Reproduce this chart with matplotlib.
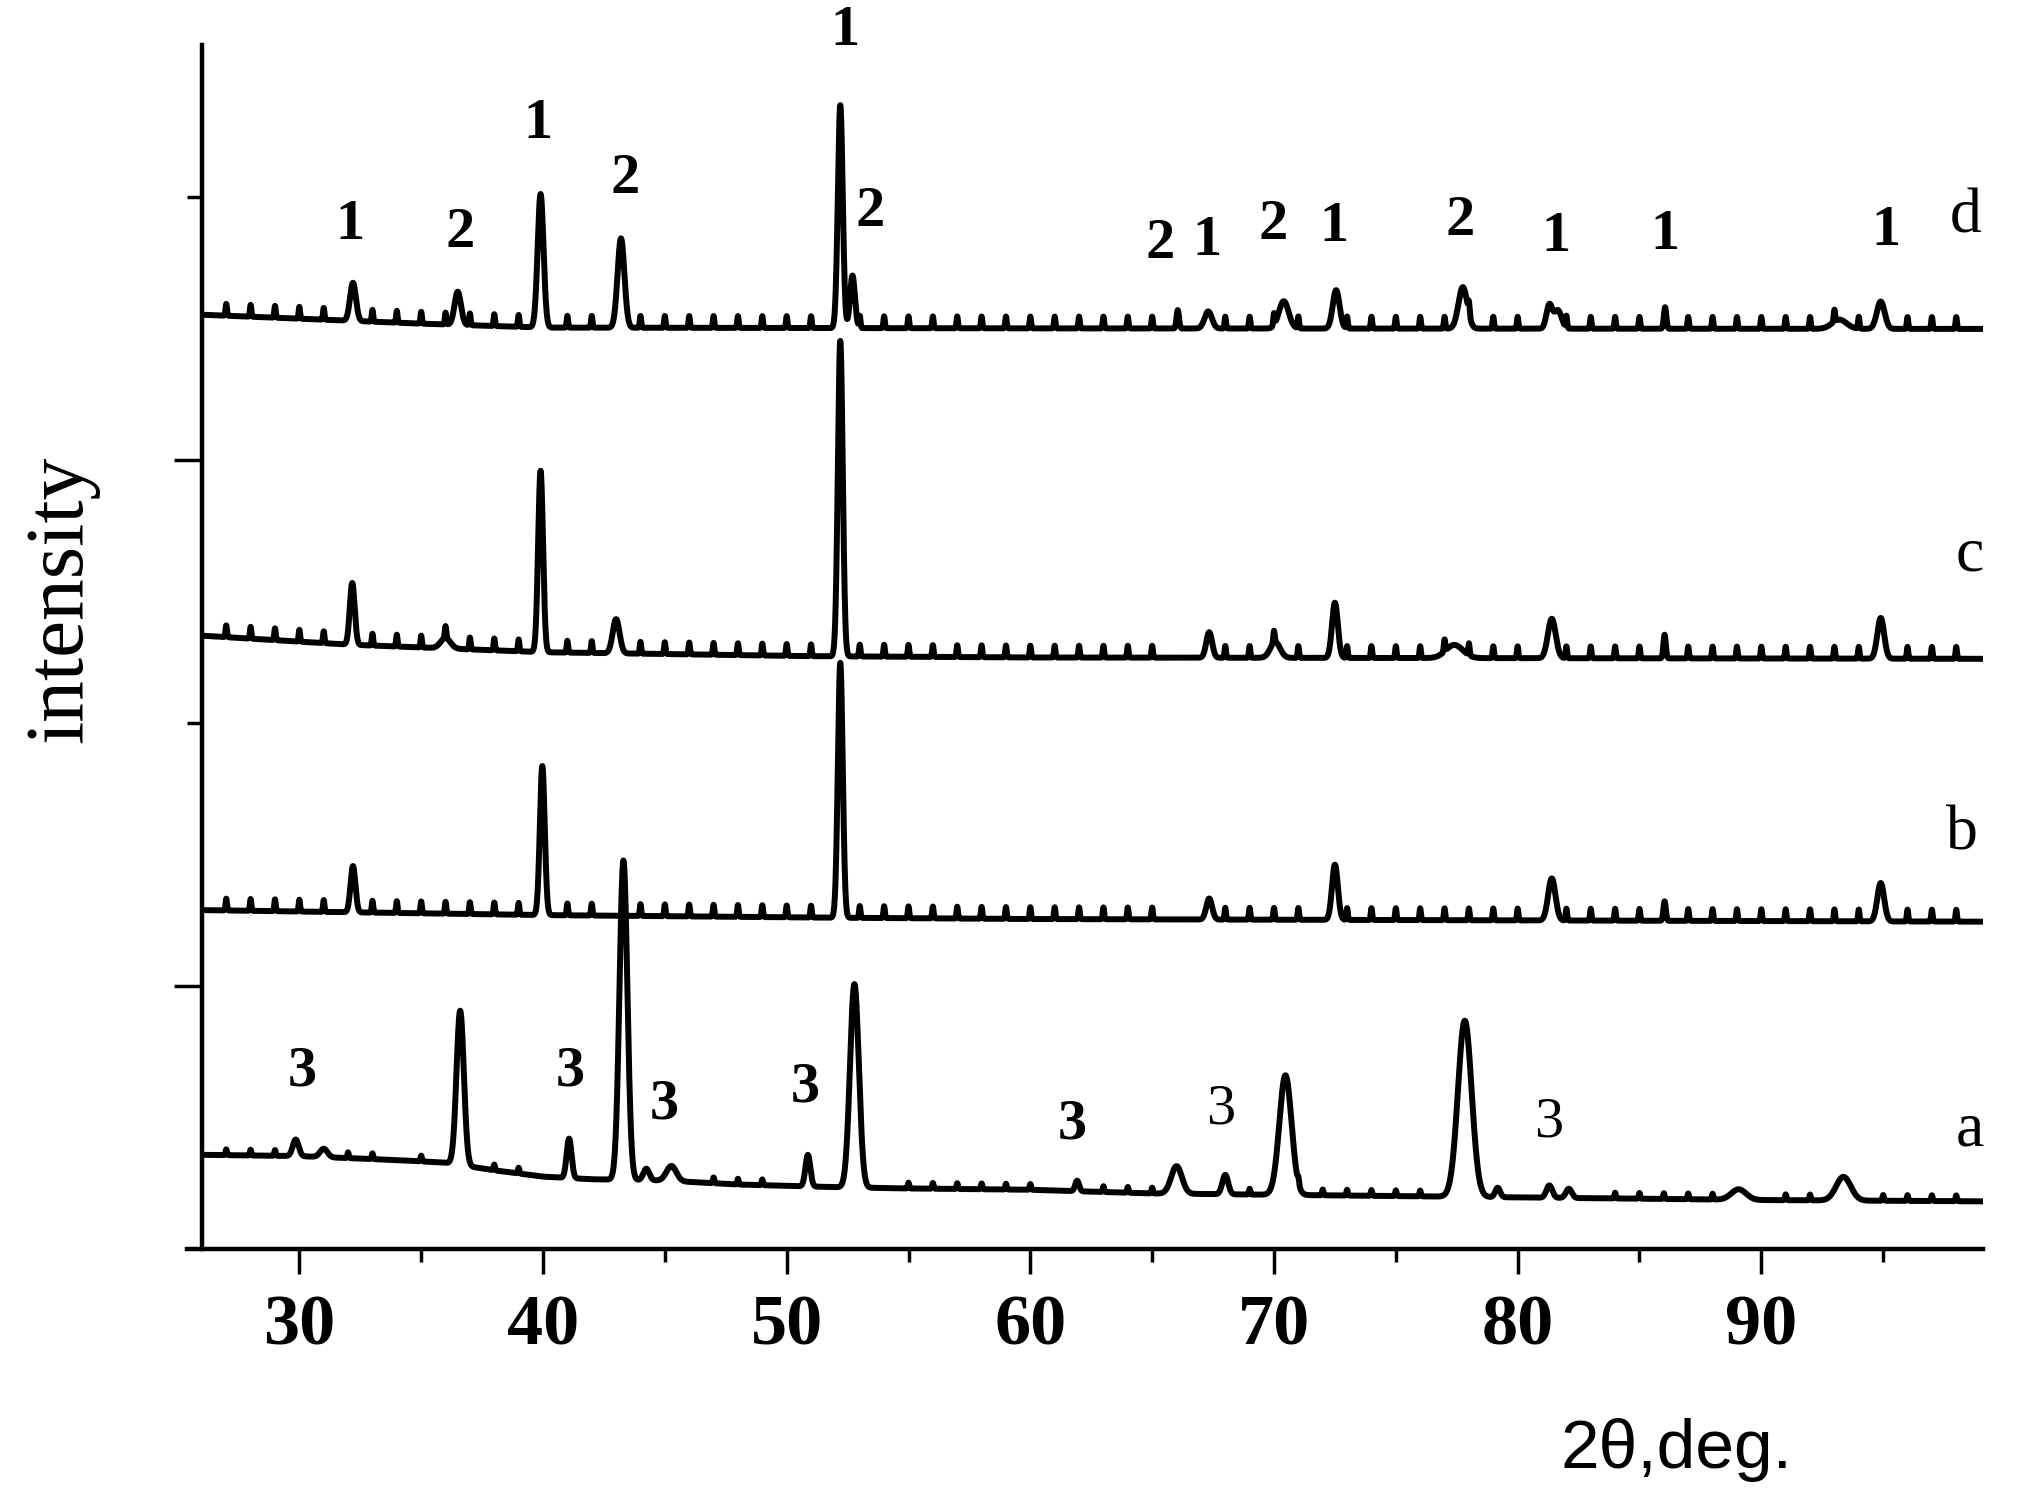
import numpy as np
import matplotlib.pyplot as plt
from matplotlib.ticker import FixedLocator, MultipleLocator

plt.rcParams['font.family'] = ['Liberation Serif', 'DejaVu Serif']

# ---- data (2theta in deg, intensity in tick units) ----
# baselines (anchor points)
a_base_x = [26, 30, 34, 36, 38, 40, 42, 45, 48, 52, 55, 60, 65, 70, 75, 80, 90, 99]
a_base_y = [0.358, 0.353, 0.338, 0.328, 0.299, 0.275, 0.265, 0.260, 0.245, 0.235,
            0.230, 0.225, 0.211, 0.206, 0.201, 0.196, 0.186, 0.181]
b_base_x = [26, 40, 52, 60, 99]
b_base_y = [1.289, 1.270, 1.260, 1.255, 1.245]
c_base_x = [26, 32, 40, 51, 60, 99]
c_base_y = [2.333, 2.299, 2.270, 2.255, 2.250, 2.245]
d_base_x = [26, 35, 40, 60, 99]
d_base_y = [3.554, 3.520, 3.505, 3.502, 3.500]

# peaks: position, height above baseline, width (sigma)
a_pos = [29.85, 31.0, 36.6, 41.07, 43.3, 44.24, 45.27, 50.87, 52.78, 61.92, 66.0,
         68.0, 70.47, 77.83, 79.18, 81.3, 82.1, 89.07, 93.37]
a_int = [0.063, 0.032, 0.587, 0.15, 1.215, 0.044, 0.057, 0.12, 0.774, 0.04, 0.105,
         0.074, 0.455, 0.67, 0.036, 0.047, 0.035, 0.04, 0.09]
a_wid = [0.12, 0.15, 0.15, 0.10, 0.16, 0.12, 0.20, 0.10, 0.18, 0.08, 0.22,
         0.12, 0.25, 0.28, 0.10, 0.12, 0.12, 0.30, 0.30]

b_pos = [32.2, 39.97, 52.2, 67.34, 72.5, 81.4, 86.03, 94.9]
b_int = [0.176, 0.567, 0.97, 0.08, 0.21, 0.16, 0.074, 0.146]
b_wid = [0.10, 0.10, 0.10, 0.12, 0.12, 0.15, 0.05, 0.14]

c_pos = [32.17, 36.0, 39.9, 43.0, 52.2, 67.34, 70.05, 72.5, 77.4, 81.4, 86.03, 94.9]
c_int = [0.235, 0.04, 0.69, 0.13, 1.2, 0.097, 0.06, 0.21, 0.05, 0.15, 0.09, 0.155]
c_wid = [0.10, 0.20, 0.10, 0.14, 0.10, 0.12, 0.20, 0.12, 0.35, 0.16, 0.05, 0.14]

d_pos = [32.2, 36.5, 39.9, 43.2, 52.2, 52.7, 66.05, 67.3, 70.4, 72.55, 77.75,
         81.3, 81.65, 86.05, 93.2, 94.9]
d_int = [0.145, 0.126, 0.508, 0.34, 0.848, 0.2, 0.07, 0.065, 0.104, 0.146, 0.158,
         0.09, 0.07, 0.082, 0.035, 0.104]
d_wid = [0.12, 0.13, 0.12, 0.14, 0.10, 0.10, 0.05, 0.15, 0.20, 0.14, 0.18,
         0.12, 0.15, 0.05, 0.30, 0.16]

# narrow instrument spikes seen along the traces
spikes_bcd = [27, 28, 29, 30, 31, 33, 34, 35, 36, 37, 38, 39, 41, 42, 44, 45, 46, 47,
              48, 49, 50, 51, 53, 54, 55, 56, 57, 58, 59, 60, 61, 62, 63, 64, 65, 68,
              69, 70, 71, 73, 74, 75, 76, 77, 78, 79, 80, 82, 83, 84, 85, 87, 88, 89,
              90, 91, 92, 93, 94, 96, 97, 98]
spikes_a = [27, 28, 29, 32, 33, 35, 38, 39, 47, 48, 49, 55, 56, 57, 58, 59, 60, 63,
            64, 65, 69, 71, 72, 73, 74, 75, 76, 84, 85, 86, 87, 88, 91, 92, 95, 96,
            97, 98]
spike_h_bcd = 0.045
spike_h_a = 0.022

# text labels on peaks
lbl_x = [32.06, 36.61, 39.78, 43.37, 52.41, 53.41, 65.31, 67.26, 69.96, 72.44, 77.62,
         81.59, 86.03, 95.12,
         30.11, 41.10, 44.96, 50.77, 61.71, 67.79, 81.27]
lbl_y = [3.897, 3.863, 4.279, 4.069, 4.632, 3.946, 3.824, 3.833, 3.897, 3.887, 3.912,
         3.848, 3.858, 3.873,
         0.676, 0.676, 0.549, 0.613, 0.475, 0.529, 0.480]
lbl_txt = ["1", "2", "1", "2", "1", "2", "2", "1", "2", "1", "2", "1", "1", "1",
           "3", "3", "3", "3", "3", "3", "3"]
lbl_bold = [True] * 19 + [False, False]

curve_names = ["a", "b", "c", "d"]
curve_lbl_x = [98.55, 98.23, 98.55, 98.39]
curve_lbl_y = [0.451, 1.578, 2.637, 3.922]

x_ticks = [30, 40, 50, 60, 70, 80, 90]


def pattern(tt, bx, by, pos, inten, wid, spikes, sh):
    y = np.interp(tt, bx, by)
    for p, h, w in zip(pos, inten, wid):
        y = y + h * np.exp(-0.5 * ((tt - p) / w) ** 2)
    for s in spikes:
        y = y + sh * np.exp(-0.5 * ((tt - s) / 0.03) ** 2)
    return y


tt = np.linspace(26.15, 99.0, 7286)
ya = pattern(tt, a_base_x, a_base_y, a_pos, a_int, a_wid, spikes_a, spike_h_a)
yb = pattern(tt, b_base_x, b_base_y, b_pos, b_int, b_wid, spikes_bcd, spike_h_bcd)
yc = pattern(tt, c_base_x, c_base_y, c_pos, c_int, c_wid, spikes_bcd, spike_h_bcd)
yd = pattern(tt, d_base_x, d_base_y, d_pos, d_int, d_wid, spikes_bcd, spike_h_bcd)

fig = plt.figure(figsize=(20.19, 15.06), dpi=100)
ax = fig.add_axes([0.1000, 0.1707, 0.8822, 0.7994])

for yy in (ya, yb, yc, yd):
    ax.plot(tt, yy, color="black", lw=4.3, solid_joinstyle="round")

ax.set_xlim(26, 99.1)
ax.set_ylim(0, 4.58)

ax.spines["top"].set_visible(False)
ax.spines["right"].set_visible(False)
ax.spines["left"].set_linewidth(3.2)
ax.spines["bottom"].set_linewidth(3.2)
ax.spines["bottom"].set_bounds(25.4, 99.1)

ax.xaxis.set_major_locator(FixedLocator(x_ticks))
ax.xaxis.set_minor_locator(MultipleLocator(5))
ax.yaxis.set_major_locator(FixedLocator([1, 3]))
ax.yaxis.set_minor_locator(FixedLocator([2, 4]))
ax.set_yticklabels([])
ax.tick_params(axis="x", which="major", length=18, width=2.5, pad=15,
               labelsize=52)
ax.tick_params(axis="x", which="minor", length=9, width=2.5)
ax.tick_params(axis="y", which="major", length=20, width=2.5)
ax.tick_params(axis="y", which="minor", length=11, width=2.5)
for t in ax.get_xticklabels():
    t.set_fontweight("bold")

for x, y, s, b in zip(lbl_x, lbl_y, lbl_txt, lbl_bold):
    ax.text(x, y, s, fontsize=42, fontweight="bold" if b else "normal",
            ha="center", va="center", clip_on=False)

for x, y, s in zip(curve_lbl_x, curve_lbl_y, curve_names):
    ax.text(x, y, s, fontsize=46, ha="center", va="center")

fig.text(0.0307, 0.6023, "intensity", rotation=90, fontsize=60,
         ha="center", va="center")
fig.text(0.8306, 0.0372, "2θ,deg.", fontsize=50, ha="center", va="center",
         family=["Liberation Sans", "DejaVu Sans"])

plt.savefig("out.png", dpi=100)
